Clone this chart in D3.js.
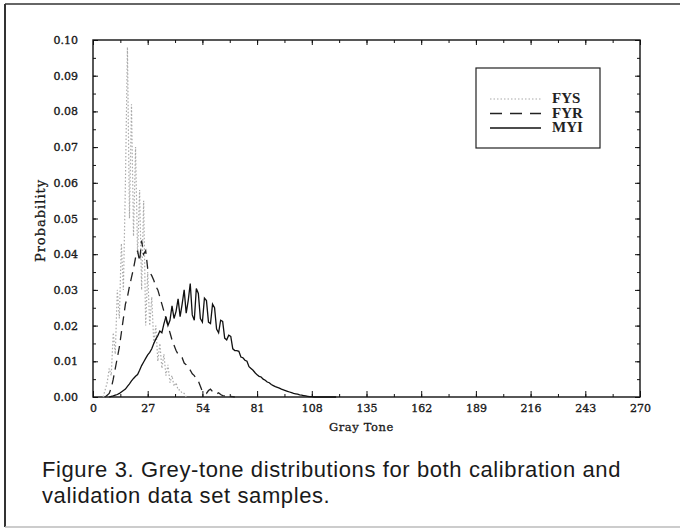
<!DOCTYPE html>
<html>
<head>
<meta charset="utf-8">
<script src="https://cdn.jsdelivr.net/npm/d3@7"></script>
<style>
  html, body { margin: 0; padding: 0; background: #fff; }
  svg { display: block; }
</style>
</head>
<body>
<div id="chart"></div>
<script>
// gray tone levels and probabilities
const fysGray = [5, 6, 7, 8, 9, 10, 11, 12, 13, 14, 15, 16, 17, 18, 19, 20, 21, 22, 23, 24, 25,
  26, 27, 28, 29, 30, 31, 32, 33, 34, 35, 36, 37, 38, 39, 40, 41, 42, 43, 44, 45, 46];
const fysProb = [0.000, 0.002, 0.004, 0.008, 0.006, 0.018, 0.012, 0.030, 0.022, 0.043, 0.030,
  0.060, 0.098, 0.050, 0.082, 0.045, 0.070, 0.040, 0.058, 0.030, 0.055, 0.020, 0.035, 0.020,
  0.028, 0.015, 0.020, 0.010, 0.015, 0.008, 0.012, 0.006, 0.009, 0.004, 0.006, 0.003, 0.004,
  0.002, 0.002, 0.001, 0.001, 0.000];

const fyrGray = [6, 7, 8, 9, 10, 11, 12, 13, 14, 15, 16, 17, 18, 19, 20, 21, 22, 23, 24, 25, 26,
  27, 28, 29, 30, 31, 32, 33, 34, 35, 36, 37, 38, 39, 40, 41, 42, 43, 44, 45, 46, 47, 48, 49,
  50, 51, 52, 53, 54, 55, 56, 57, 58, 59, 60, 61, 62, 63, 64, 65, 66, 67, 68, 69, 70];
const fyrProb = [0.0000, 0.0005, 0.0010, 0.0025, 0.0050, 0.0080, 0.0110, 0.0140, 0.0180,
  0.0220, 0.0260, 0.0280, 0.0310, 0.0335, 0.0360, 0.0390, 0.0410, 0.0380, 0.0438, 0.0400,
  0.0410, 0.0360, 0.0350, 0.0340, 0.0327, 0.0310, 0.0300, 0.0280, 0.0260, 0.0240, 0.0220,
  0.0200, 0.0180, 0.0160, 0.0145, 0.0130, 0.0120, 0.0115, 0.0110, 0.0095, 0.0090, 0.0080,
  0.0075, 0.0065, 0.0060, 0.0050, 0.0045, 0.0030, 0.0015, 0.0012, 0.0010, 0.0018, 0.0022,
  0.0015, 0.0010, 0.0008, 0.0012, 0.0007, 0.0004, 0.0003, 0.0006, 0.0003, 0.0002, 0.0001,
  0.0000];

const myiGray = [8, 9, 10, 11, 12, 13, 14, 15, 16, 17, 18, 19, 20, 21, 22, 23, 24, 25, 26, 27,
  28, 29, 30, 31, 32, 33, 34, 35, 36, 37, 38, 39, 40, 41, 42, 43, 44, 45, 46, 47, 48, 49, 50,
  51, 52, 53, 54, 55, 56, 57, 58, 59, 60, 61, 62, 63, 64, 65, 66, 67, 68, 69, 70, 71, 72, 73,
  74, 75, 76, 77, 78, 79, 80, 81, 82, 83, 84, 85, 86, 87, 88, 89, 90, 91, 92, 93, 94, 95, 96,
  97, 98, 99, 100, 101, 102, 103, 104, 105, 106, 107, 108, 109, 120];
const myiProb = [0.0000, 0.0002, 0.0003, 0.0005, 0.0007, 0.0010, 0.0014, 0.0018, 0.0022,
  0.0030, 0.0037, 0.0045, 0.0052, 0.0058, 0.0063, 0.0075, 0.0088, 0.0098, 0.0108, 0.0118,
  0.0125, 0.0135, 0.0150, 0.0162, 0.0172, 0.0185, 0.0180, 0.0205, 0.0225, 0.0200, 0.0215,
  0.0255, 0.0220, 0.0240, 0.0275, 0.0225, 0.0260, 0.0300, 0.0235, 0.0270, 0.0318, 0.0230,
  0.0215, 0.0304, 0.0290, 0.0220, 0.0210, 0.0277, 0.0270, 0.0210, 0.0206, 0.0260, 0.0250,
  0.0190, 0.0180, 0.0215, 0.0212, 0.0165, 0.0160, 0.0173, 0.0170, 0.0135, 0.0130, 0.0130,
  0.0128, 0.0112, 0.0110, 0.0103, 0.0100, 0.0085, 0.0080, 0.0075, 0.0068, 0.0062, 0.0058,
  0.0056, 0.0050, 0.0047, 0.0042, 0.0040, 0.0035, 0.0032, 0.0029, 0.0027, 0.0025, 0.0022,
  0.0020, 0.0018, 0.0016, 0.0014, 0.0012, 0.0010, 0.0009, 0.0008, 0.0006, 0.0005, 0.0004,
  0.0003, 0.0002, 0.0001, 0.0001, 0.0000, 0.0000];

const xTicks = [0, 27, 54, 81, 108, 135, 162, 189, 216, 243, 270];
const yTicks = [0, 0.01, 0.02, 0.03, 0.04, 0.05, 0.06, 0.07, 0.08, 0.09, 0.10];
const seriesNames = ["FYS", "FYR", "MYI"];
const captionLines = [
  "Figure 3. Grey-tone distributions for both calibration and",
  "validation data set samples."
];

const width = 682, height = 528;
const plot = { left: 93, right: 640, top: 40, bottom: 397 };

const svg = d3.select("#chart").append("svg")
    .attr("width", width)
    .attr("height", height);

// page frame of the scanned figure
svg.append("line").attr("x1", 5).attr("y1", 4).attr("x2", 680).attr("y2", 4)
    .attr("stroke", "#333").attr("stroke-width", 1.6);
svg.append("line").attr("x1", 5).attr("y1", 4).attr("x2", 5).attr("y2", 527)
    .attr("stroke", "#333").attr("stroke-width", 2);
svg.append("line").attr("x1", 5).attr("y1", 527).attr("x2", 680).attr("y2", 527)
    .attr("stroke", "#bbb").attr("stroke-width", 1.5);

const x = d3.scaleLinear().domain([0, 270]).range([plot.left, plot.right]);
const y = d3.scaleLinear().domain([0, 0.10]).range([plot.bottom, plot.top]);

const tickFont = "'DejaVu Serif', serif";

function styleAxis(g) {
  g.select(".domain").remove();
  g.selectAll("line").attr("stroke", "#111").attr("stroke-width", 1);
  g.selectAll("text")
      .attr("fill", "#1a1a1a")
      .attr("stroke", "#1a1a1a").attr("stroke-width", 0.35)
      .attr("font-family", tickFont).attr("font-size", 11);
}

const xMinor = d3.range(0, 271, 13.5);
const yMinor = d3.range(0, 0.1001, 0.005);

// bottom
svg.append("g").attr("transform", `translate(0,${plot.bottom})`)
    .call(d3.axisBottom(x).tickValues(xMinor).tickSize(-3).tickFormat(""))
    .call(styleAxis);
svg.append("g").attr("transform", `translate(0,${plot.bottom})`)
    .call(d3.axisBottom(x).tickValues(xTicks).tickSizeInner(-6).tickPadding(7).tickFormat(d3.format("d")))
    .call(styleAxis);
// top
svg.append("g").attr("transform", `translate(0,${plot.top})`)
    .call(d3.axisTop(x).tickValues(xMinor).tickSize(-3).tickFormat(""))
    .call(styleAxis);
svg.append("g").attr("transform", `translate(0,${plot.top})`)
    .call(d3.axisTop(x).tickValues(xTicks).tickSize(-5).tickFormat(""))
    .call(styleAxis);
// left
svg.append("g").attr("transform", `translate(${plot.left},0)`)
    .call(d3.axisLeft(y).tickValues(yMinor).tickSize(-3).tickFormat(""))
    .call(styleAxis);
svg.append("g").attr("transform", `translate(${plot.left},0)`)
    .call(d3.axisLeft(y).tickValues(yTicks).tickSizeInner(-5).tickPadding(15).tickFormat(d3.format(".2f")))
    .call(styleAxis);
// right
svg.append("g").attr("transform", `translate(${plot.right},0)`)
    .call(d3.axisRight(y).tickValues(yMinor).tickSize(-3).tickFormat(""))
    .call(styleAxis);
svg.append("g").attr("transform", `translate(${plot.right},0)`)
    .call(d3.axisRight(y).tickValues(yTicks).tickSize(-5).tickFormat(""))
    .call(styleAxis);

svg.append("rect")
    .attr("x", plot.left).attr("y", plot.top)
    .attr("width", plot.right - plot.left).attr("height", plot.bottom - plot.top)
    .attr("fill", "none").attr("stroke", "#111").attr("stroke-width", 1.4);

// axis titles
svg.append("text")
    .attr("x", (plot.left + plot.right) / 2 - 5).attr("y", 431)
    .attr("text-anchor", "middle")
    .attr("font-family", tickFont).attr("font-size", 11.5).attr("fill", "#1a1a1a")
    .attr("stroke", "#1a1a1a").attr("stroke-width", 0.3)
    .attr("letter-spacing", 0.6)
    .text("Gray Tone");
svg.append("text")
    .attr("transform", `translate(45,${(plot.top + plot.bottom) / 2 + 2}) rotate(-90)`)
    .attr("text-anchor", "middle")
    .attr("font-family", tickFont).attr("font-size", 13).attr("fill", "#1a1a1a")
    .attr("stroke", "#1a1a1a").attr("stroke-width", 0.3)
    .attr("letter-spacing", 1)
    .text("Probability");

// series
const line = d3.line().x(d => x(d[0])).y(d => y(d[1]));
const series = [
  { name: "FYS", data: d3.zip(fysGray, fysProb), stroke: "#aaa", width: 1.2, dash: "1.5,2" },
  { name: "FYR", data: d3.zip(fyrGray, fyrProb), stroke: "#222", width: 1.3, dash: "9,6" },
  { name: "MYI", data: d3.zip(myiGray, myiProb), stroke: "#111", width: 1.3, dash: null }
];

svg.append("g").selectAll("path")
  .data(series)
  .join("path")
    .attr("d", d => line(d.data))
    .attr("fill", "none")
    .attr("stroke", d => d.stroke)
    .attr("stroke-width", d => d.width)
    .attr("stroke-dasharray", d => d.dash);

// legend
const legend = svg.append("g");
legend.append("rect")
    .attr("x", 476).attr("y", 68).attr("width", 124).attr("height", 80)
    .attr("fill", "#fff").attr("stroke", "#222").attr("stroke-width", 1.2);

const legendRows = legend.selectAll("g.row")
  .data(series)
  .join("g")
    .attr("class", "row")
    .attr("transform", (d, i) => `translate(0,${[103, 117.5, 132][i]})`);

legendRows.append("line")
    .attr("x1", 490).attr("x2", 541).attr("y1", -4).attr("y2", -4)
    .attr("stroke", d => d.stroke)
    .attr("stroke-width", d => d.width)
    .attr("stroke-dasharray", d => d.dash === "9,6" ? "12,8" : d.dash);

legendRows.append("text")
    .attr("x", 552).attr("y", 0)
    .attr("font-family", "'Liberation Serif', serif")
    .attr("font-weight", "bold")
    .attr("font-size", 15)
    .attr("fill", "#222")
    .text((d, i) => seriesNames[i]);

// caption
svg.append("g").selectAll("text")
  .data(captionLines)
  .join("text")
    .attr("x", 42)
    .attr("y", (d, i) => 477 + i * 25.5)
    .attr("font-family", "'Liberation Sans', Arial, sans-serif")
    .attr("font-size", 22)
    .attr("letter-spacing", 0.6)
    .attr("fill", "#1a1a1a")
    .text(d => d);
</script>
</body>
</html>
